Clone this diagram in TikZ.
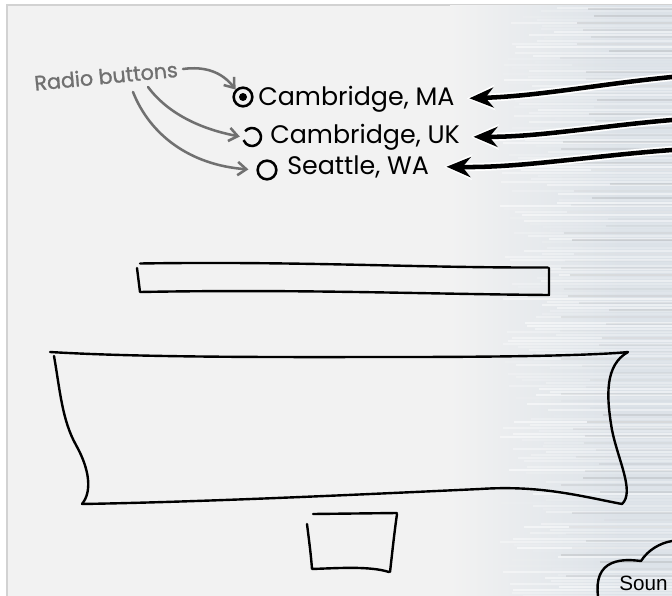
\documentclass[tikz,border=0pt]{standalone}
\usepackage{fontspec}
\setmainfont{Poppins}
\newfontfamily\cloudfont{Liberation Sans}
\newfontfamily\notefont[FakeBold=1.2]{Poppins}
\usetikzlibrary{arrows.meta}
\definecolor{napkin}{HTML}{F2F2F2}
\definecolor{napkinedge}{HTML}{D2D2D2}
\definecolor{bgblue}{HTML}{DCE2E8}
\definecolor{notegray}{HTML}{707070}
\begin{document}
\begin{tikzpicture}[x=0.75pt,y=-0.75pt,
  sketch/.style={line width=1.8pt, line cap=round, line join=round},
  citylabel/.style={anchor=base west, inner sep=0pt, font=\fontsize{19}{22}\selectfont},
  note/.style={text=notegray, inner sep=0pt, font=\notefont\fontsize{15.5}{18}\selectfont},
  notearrow/.style={draw=notegray, line width=1.9pt, line cap=round,
    -{Straight Barb[length=6.5pt,width=10pt]}},
  bigarrow/.style={line width=3.4pt, -{Stealth[length=18pt,width=15pt,inset=6pt]}},
  halo/.style={white, line width=6pt, -{Stealth[length=21pt,width=19pt,inset=7pt]}},
  radio/.style={circle, inner sep=0pt, minimum size=14pt},
  radioline/.style={line width=1.9pt}]
\useasboundingbox (0,0) rectangle (672,596);
\begin{scope}
\clip (0,0) rectangle (672,596);
% background napkin
\fill[white] (0,0) rectangle (672,596);
\fill[napkin] (7,5) rectangle (672,596);
\draw[napkinedge, line width=0.8pt] (7,596) -- (7,5) -- (672,5);
\shade[left color=napkin, right color=bgblue] (450,5) rectangle (620,596);
\fill[bgblue] (620,5) rectangle (672,596);
\pgfmathsetseed{11}
\foreach \yy in {8,11,...,596}{
  \pgfmathsetmacro\op{rnd*0.55}
  \pgfmathsetmacro\xs{500+rnd*60}
  \draw[white, opacity=\op, line width=1.3pt] (\xs,\yy) -- (672,\yy);
}
\foreach \yy in {9,16,...,596}{
  \pgfmathsetmacro\op{rnd*0.22}
  \pgfmathsetmacro\xs{560+rnd*50}
  \draw[gray, opacity=\op, line width=0.9pt] (\xs,\yy) -- (672,\yy);
}

% note text
\node[note, rotate=5.5] (rb) at (106,76) {Radio buttons};

% radio buttons
\node[radio, draw, radioline] (r1) at (243,97) {};
\fill (r1.center) circle[radius=4];
\node[radio] (r2) at (252,137) {};
\draw[radioline] (r2.center) ++(220:9) arc[start angle=220, end angle=520, radius=9];
\node[radio, draw, radioline] (r3) at (267,170) {};

% labels
\node[citylabel] (l1) at (258,105) {Cambridge, MA};
\node[citylabel] (l2) at (270,143) {Cambridge, UK};
\node[citylabel] (l3) at (287,174) {Seattle, WA};

% gray note arrows
\coordinate (n1) at (183,69);
\coordinate (n2) at (148,87);
\coordinate (n3) at (133,92);
\draw[notearrow] (n1) .. controls (205,66) and (222,72) .. (r1.north west);
\draw[notearrow, shorten >=2pt] (n2) .. controls (165,110) and (195,128) .. (r2.west);
\draw[notearrow, shorten >=6pt] (n3) .. controls (150,135) and (190,165) .. (r3.west);

% big black arrows from the right edge
\coordinate (e1) at (672,77);
\coordinate (e2) at (672,120);
\coordinate (e3) at (672,150);
\foreach \e/\l/\ca/\cb/\sh in {e1/l1/{(600,84)}/{(540,96)}/11, e2/l2/{(600,126)}/{(540,137)}/10, e3/l3/{(590,156)}/{(520,168)}/13}{
  \draw[halo, shorten >=\sh pt-2pt] (\e) .. controls \ca and \cb .. (\l.east);
  \draw[bigarrow, shorten >=\sh pt] (\e) .. controls \ca and \cb .. (\l.east);
}

% text field
\draw[sketch] (140,263.5) .. controls (300,261) and (420,268) .. (548,267.5);
\draw[sketch] (549,268) -- (549,295) .. controls (420,294) and (300,289) .. (140,292) -- (137,268);

% big text area
\draw[sketch] (50,352) .. controls (150,358) and (300,357) .. (400,357)
  .. controls (520,357) and (600,355) .. (628,352)
  .. controls (605,365) and (606,395) .. (612,430)
  .. controls (618,460) and (635,492) .. (622,504)
  .. controls (580,496) and (540,485) .. (480,489)
  .. controls (350,495) and (200,502) .. (82,504);
\draw[sketch] (82,504) .. controls (92,492) and (90,470) .. (76,445)
  .. controls (62,420) and (60,390) .. (54,356);

% small button box
\draw[sketch] (313,514) -- (397,513);
\draw[sketch] (397,514) .. controls (394,535) and (392,555) .. (390,572);
\draw[sketch] (389,572) .. controls (370,566) and (340,568) .. (312,569)
  .. controls (311,555) and (309,540) .. (307,524);

% cloud
\draw[sketch] (598,596) .. controls (596,580) and (600,568) .. (612,563)
  .. controls (622,559) and (632,560) .. (641,561)
  .. controls (648,550) and (660,543) .. (672,541);
\node[anchor=base west, inner sep=0pt, font=\cloudfont\fontsize{15.5}{18}\selectfont] (snd) at (619,590) {Soun};
\end{scope}
\end{tikzpicture}
\end{document}
